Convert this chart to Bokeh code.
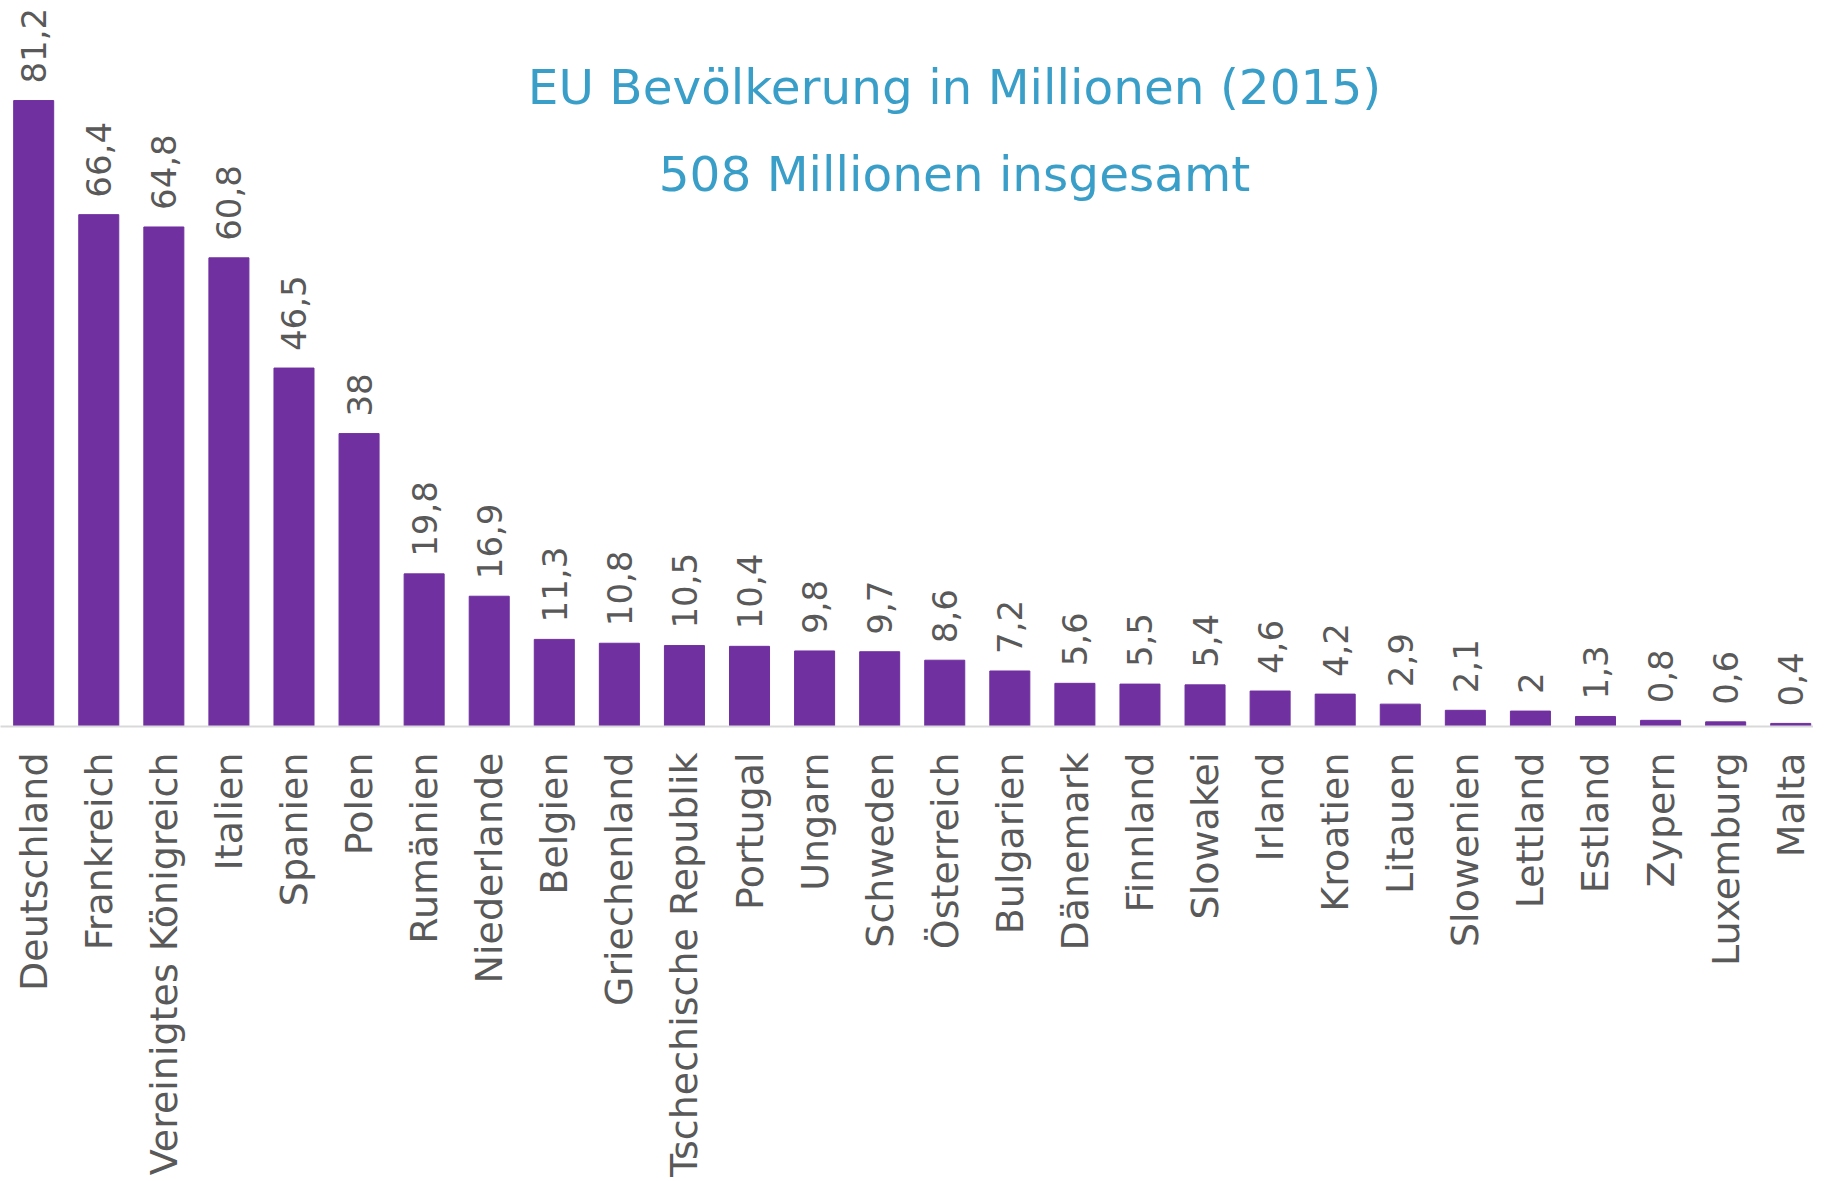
import math
from bokeh.plotting import figure
from bokeh.models import Range1d, FixedTicker, Label, ColumnDataSource
from bokeh.core.properties import value
from bokeh.embed import file_html
from bokeh.resources import INLINE

countries = ["Deutschland", "Frankreich", "Vereinigtes Königreich", "Italien", "Spanien",
             "Polen", "Rumänien", "Niederlande", "Belgien", "Griechenland",
             "Tschechische Republik", "Portugal", "Ungarn", "Schweden", "Österreich",
             "Bulgarien", "Dänemark", "Finnland", "Slowakei", "Irland", "Kroatien",
             "Litauen", "Slowenien", "Lettland", "Estland", "Zypern", "Luxemburg", "Malta"]
population = [81.2, 66.4, 64.8, 60.8, 46.5, 38, 19.8, 16.9, 11.3, 10.8, 10.5, 10.4, 9.8, 9.7,
              8.6, 7.2, 5.6, 5.5, 5.4, 4.6, 4.2, 2.9, 2.1, 2, 1.3, 0.8, 0.6, 0.4]
title_line1 = "EU Bevölkerung in Millionen (2015)"
title_line2 = "508 Millionen insgesamt"

idx = list(range(len(countries)))
labels = [f"{v:g}".replace(".", ",") for v in population]
src = ColumnDataSource(dict(x=idx, v=population, lab=labels))

FONT = "DejaVu Sans"
GRAY = "#595959"
PURPLE = "#7030A0"
BLUE = "#3A9FC8"

p = figure(frame_width=1813, frame_height=726,
           x_range=Range1d(-0.51, 27.35), y_range=Range1d(0, 94.18),
           output_backend="svg", toolbar_location=None, y_axis_location=None,
           min_border_left=0, min_border_right=0, min_border_top=0, min_border_bottom=0)
p.outline_line_color = None
p.xgrid.grid_line_color = None
p.ygrid.grid_line_color = None

p.vbar(x="x", top="v", width=0.615, source=src, fill_color=PURPLE, line_color=PURPLE)
p.text(x="x", y="v", text="lab", source=src, angle=math.pi / 2, text_align="left",
       text_baseline="middle", y_offset=-17, text_font=value(FONT),
       text_font_size="34px", text_color=GRAY)

ax = p.xaxis[0]
ax.ticker = FixedTicker(ticks=idx)
ax.major_label_overrides = {i: c for i, c in zip(idx, countries)}
ax.major_label_orientation = math.pi / 2
ax.major_label_text_font = FONT
ax.major_label_text_font_size = "38px"
ax.major_label_text_color = GRAY
ax.major_label_standoff = 26
ax.major_tick_line_color = None
ax.major_tick_out = 0
ax.major_tick_in = 0
ax.minor_tick_line_color = None
ax.axis_line_color = "#D9D9D9"
ax.axis_line_width = 2

for txt, yy in ((title_line1, 640), (title_line2, 553)):
    p.add_layout(Label(x=954, y=yy, x_units="screen", y_units="screen", text=txt,
                       text_align="center", text_baseline="alphabetic",
                       text_font=FONT, text_font_size="48.5px", text_color=BLUE))

open("out.html", "w").write(file_html(p, INLINE))
